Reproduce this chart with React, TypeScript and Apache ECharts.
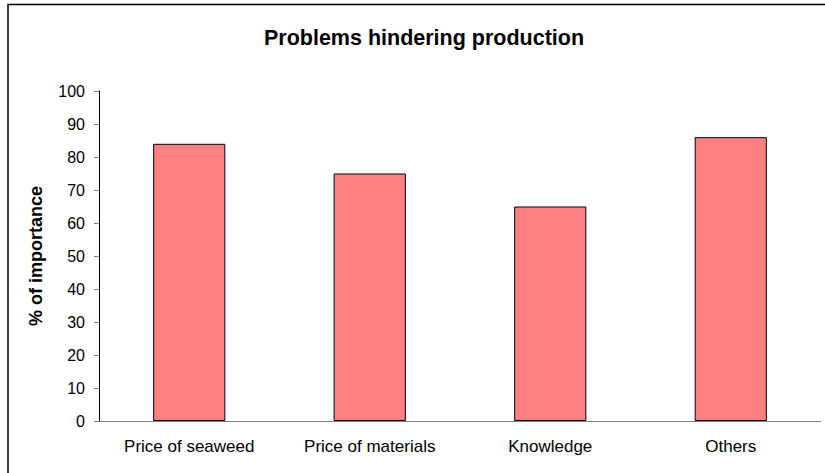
import React, { useEffect, useRef } from "react";
import * as echarts from "echarts";

const categories = ["Price of seaweed", "Price of materials", "Knowledge", "Others"];
const values = [84, 75, 65, 86];
const titleText = "Problems hindering production";
const yAxisName = "% of importance";

const FONT = "Liberation Sans, Arial, sans-serif";

export default function App() {
  const ref = useRef<HTMLDivElement>(null);
  useEffect(() => {
    const chart = echarts.init(ref.current!, null, { renderer: "svg" });
    chart.setOption({
      animation: false,
      backgroundColor: "#ffffff",
      title: {
        text: titleText,
        left: 419,
        top: 22,
        textAlign: "center",
        textStyle: { fontFamily: FONT, fontWeight: "bold", fontSize: 21.5, color: "#000" },
      },
      graphic: [
        {
          type: "polyline",
          shape: { points: [[8, 473], [8, 4.5], [825, 4.5]] },
          style: { stroke: "#000", lineWidth: 1.5, fill: null },
        },
      ],
      grid: { left: 99, right: 4, top: 91, bottom: 52 },
      xAxis: {
        type: "category",
        data: categories,
        axisLine: { lineStyle: { color: "#808080", width: 1 } },
        axisTick: { alignWithLabel: false, length: 5, lineStyle: { color: "#808080" } },
        axisLabel: { color: "#000", fontSize: 17, margin: 17, fontFamily: FONT },
      },
      yAxis: {
        type: "value",
        min: 0,
        max: 100,
        interval: 10,
        name: yAxisName,
        nameLocation: "middle",
        nameGap: 54,
        nameTextStyle: { fontWeight: "bold", fontSize: 18, color: "#000", fontFamily: FONT },
        axisLine: { show: true, lineStyle: { color: "#000", width: 1 } },
        axisTick: { show: true, length: 5, lineStyle: { color: "#808080" } },
        splitLine: { show: false },
        axisLabel: { color: "#000", fontSize: 16, margin: 14, fontFamily: FONT },
      },
      series: [
        {
          type: "bar",
          data: values,
          barWidth: "40%",
          itemStyle: { color: "#FF8080", borderColor: "#000", borderWidth: 1 },
        },
      ],
    });
    return () => chart.dispose();
  }, []);
  return <div ref={ref} style={{ position: "fixed", left: 0, top: 0, width: 825, height: 473 }} />;
}
